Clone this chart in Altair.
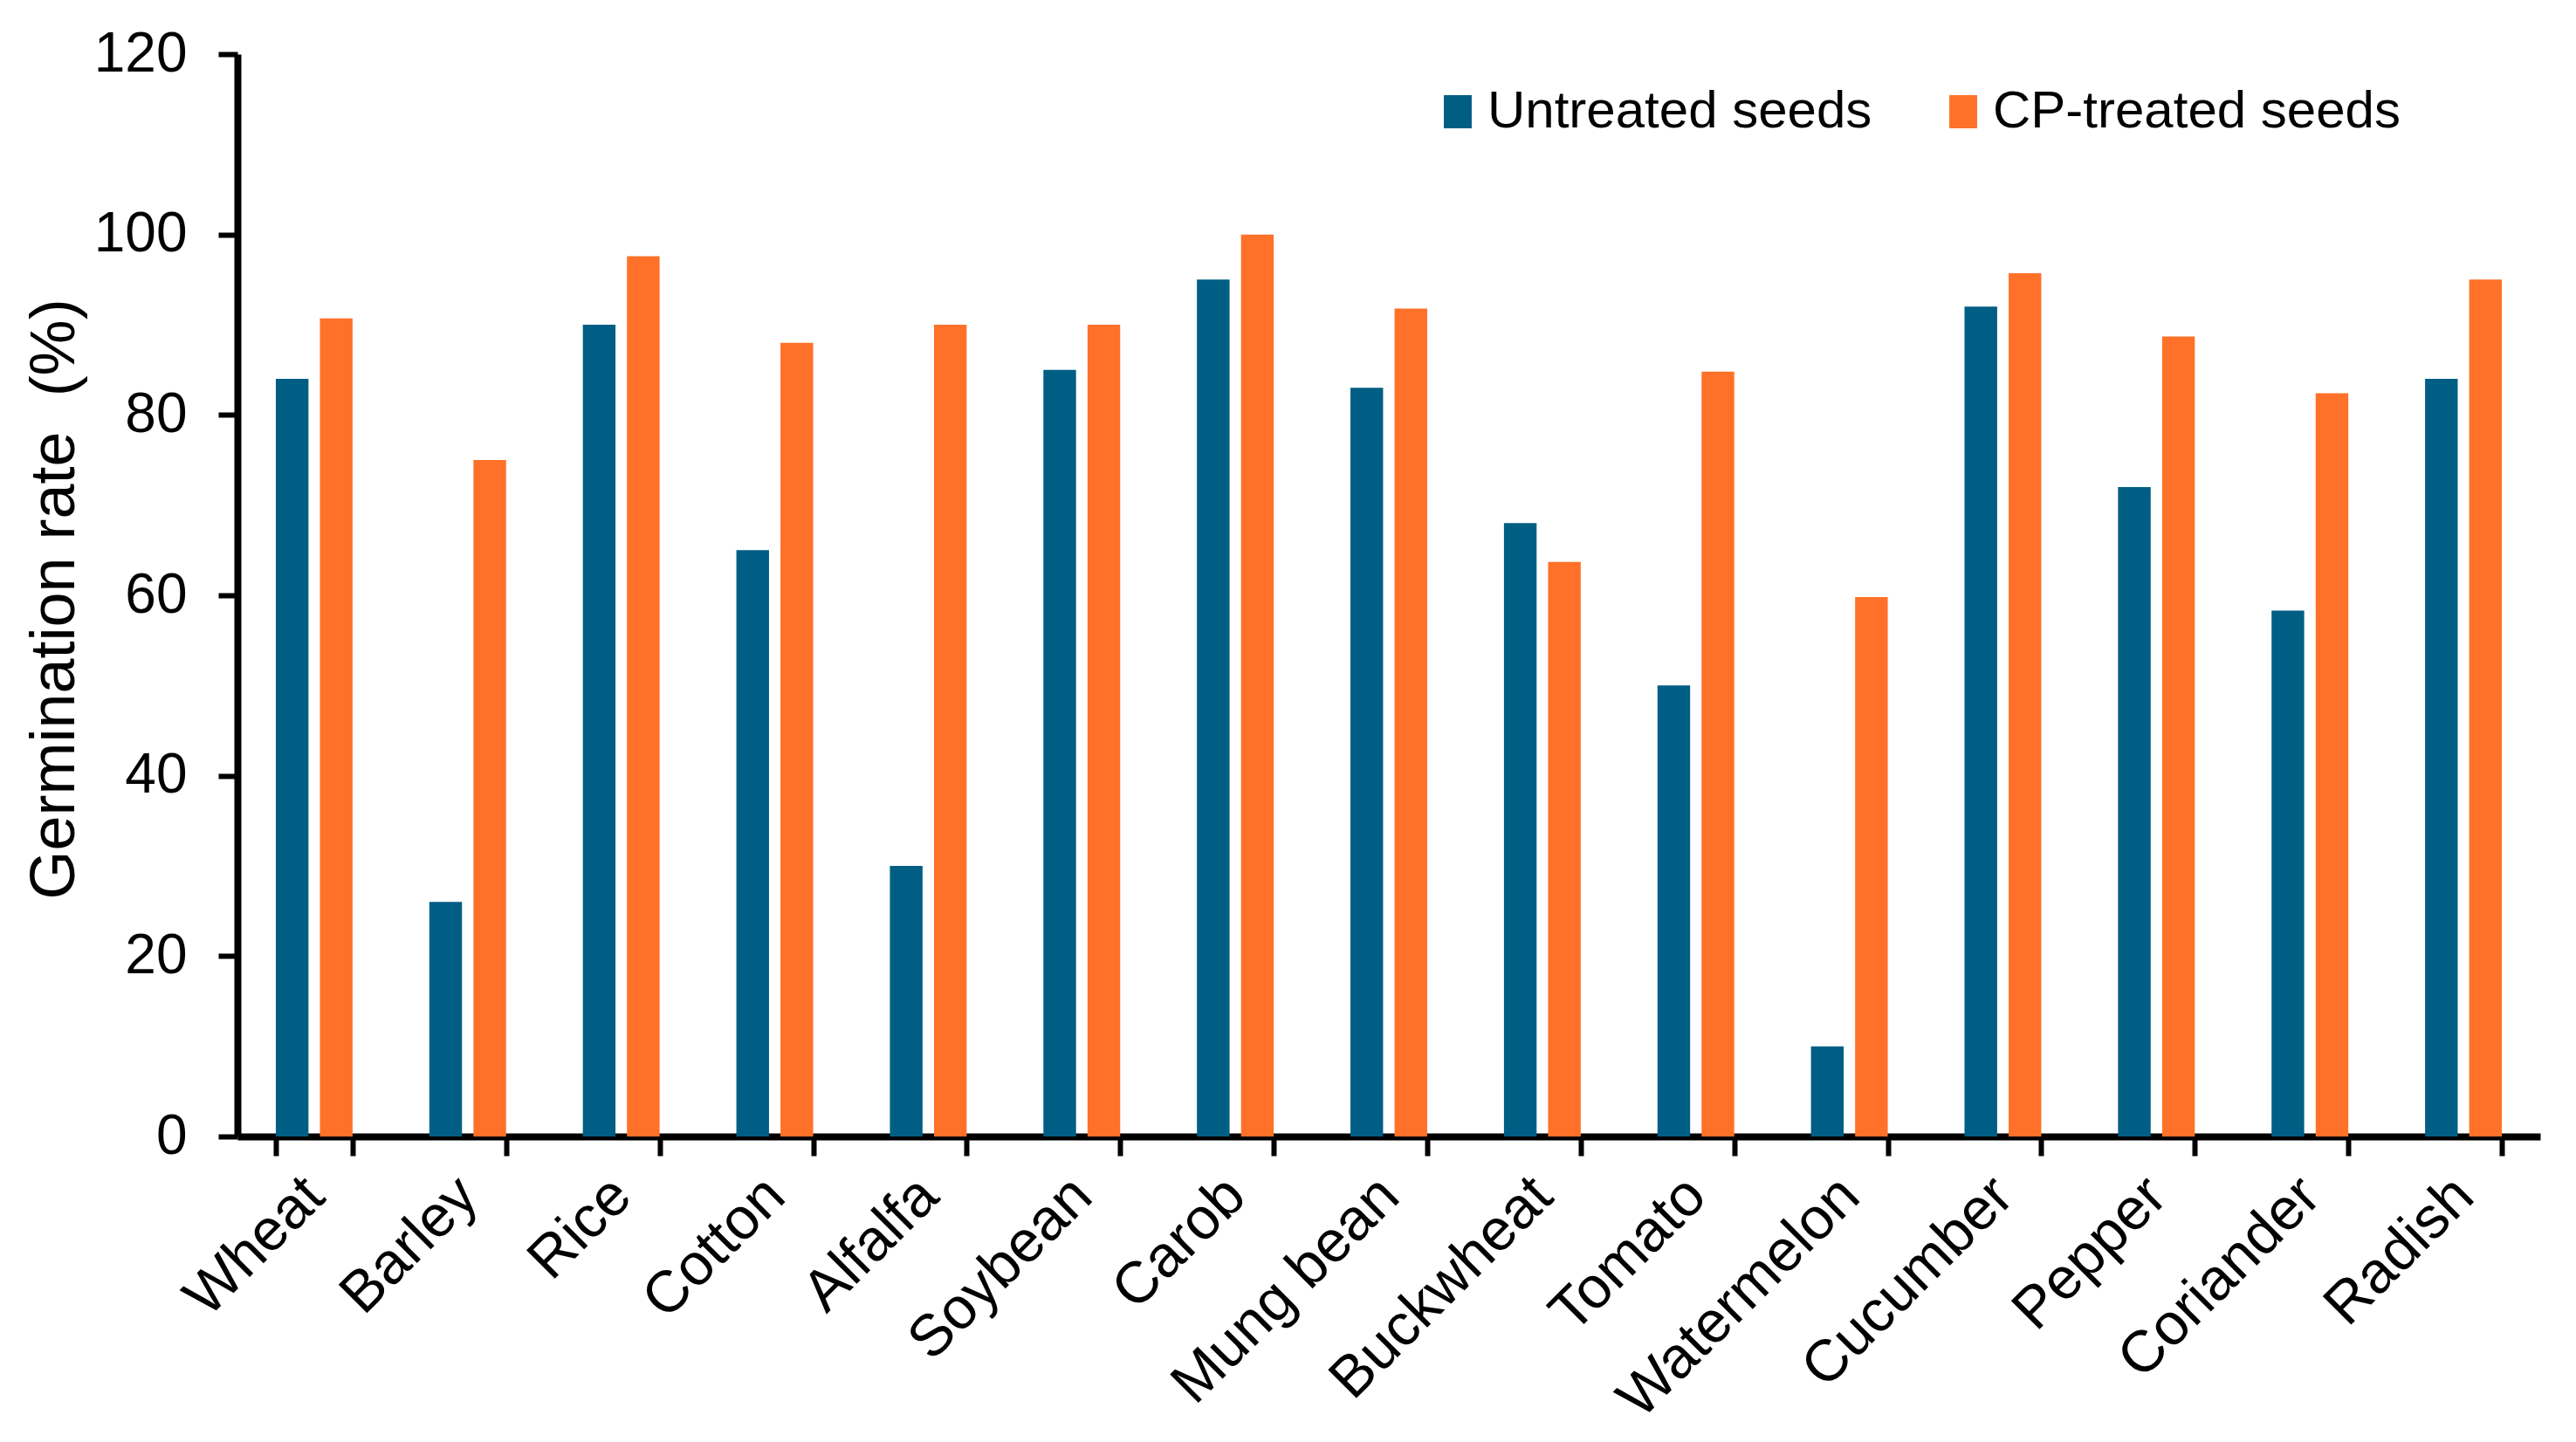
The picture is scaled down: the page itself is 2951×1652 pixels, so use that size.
import altair as alt
import pandas as pd

crops = ["Wheat", "Barley", "Rice", "Cotton", "Alfalfa", "Soybean", "Carob",
         "Mung bean", "Buckwheat", "Tomato", "Watermelon", "Cucumber",
         "Pepper", "Coriander", "Radish"]
untreated = [84, 26, 90, 65, 30, 85, 95, 83, 68, 50, 10, 92, 72, 58.3, 84]
cp_treated = [90.7, 75, 97.6, 88, 90, 90, 100, 91.8, 63.7, 84.8, 59.8, 95.7, 88.7, 82.4, 95]
series_names = ["Untreated seeds", "CP-treated seeds"]
series_colors = ["#005E85", "#FF7128"]
y_ticks = [0, 20, 40, 60, 80, 100, 120]
y_title = "Germination rate\u00a0 (%)"

rows = []
for c, u, t in zip(crops, untreated, cp_treated):
    rows.append({"crop": c, "series": series_names[0], "value": u})
    rows.append({"crop": c, "series": series_names[1], "value": t})
df = pd.DataFrame(rows)

FONT = "Liberation Sans"

chart = alt.Chart(df).mark_bar().encode(
    x=alt.X("crop:N", sort=crops,
            scale=alt.Scale(paddingInner=0.5, paddingOuter=0.25),
            axis=alt.Axis(title=None, labelAngle=-45, tickBand="extent",
                          labelFontSize=67, labelFont=FONT, labelColor="black",
                          labelLimit=2000, labelOffset=-23,
                          domainColor="black", domainWidth=8,
                          tickColor="black", tickWidth=6, tickSize=22,
                          labelPadding=12)),
    xOffset=alt.XOffset("series:N", sort=series_names,
                        scale=alt.Scale(paddingInner=0.26, paddingOuter=0)),
    y=alt.Y("value:Q",
            scale=alt.Scale(domain=[0, 120], nice=False),
            axis=alt.Axis(title=y_title, values=y_ticks,
                          grid=False, labelFontSize=64, labelFont=FONT,
                          labelColor="black", titleFontSize=72, titleFont=FONT,
                          titleFontWeight="normal", titleColor="black",
                          titleAngle=-90, titleX=-210, titleY=624,
                          titleAlign="center", titleBaseline="middle",
                          domainColor="black", domainWidth=8,
                          tickColor="black", tickWidth=6, tickSize=22,
                          labelPadding=36)),
    color=alt.Color("series:N", sort=series_names,
                    scale=alt.Scale(domain=series_names, range=series_colors),
                    legend=alt.Legend(title=None, orient="none",
                                      direction="horizontal",
                                      legendX=1368, legendY=36,
                                      labelFontSize=60, labelFont=FONT,
                                      labelColor="black",
                                      symbolType="M-0.84,-1L0.84,-1L0.84,1L-0.84,1Z",
                                      symbolSize=1444, symbolStrokeWidth=0,
                                      labelOffset=4, columnPadding=74,
                                      padding=0, labelLimit=1000)),
).properties(
    width=2638,
    height=1240,
    background="white",
    autosize=alt.AutoSizeParams(type="none"),
    padding={"left": 264, "top": 54, "right": 30, "bottom": 350},
).configure_view(strokeWidth=0, stroke="transparent")

chart.save("out.html", embed_options={"renderer": "svg", "actions": False})
